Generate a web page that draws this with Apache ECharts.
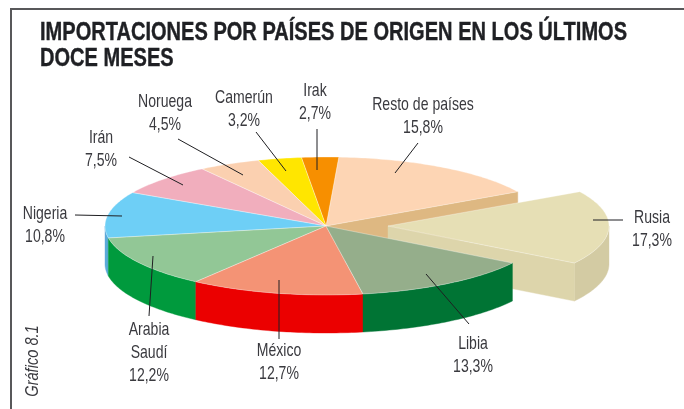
<!DOCTYPE html>
<html>
<head>
<meta charset="utf-8">
<title>Importaciones por países de origen</title>
<script src="https://cdn.jsdelivr.net/npm/echarts@6/dist/echarts.min.js"></script>
<style>
  html, body { margin: 0; padding: 0; background: #fff; }
  #chart { width: 684px; height: 409px; }
</style>
</head>
<body>
<div id="chart"></div>
<script>
const titulo = 'IMPORTACIONES POR PAÍSES DE ORIGEN EN LOS ÚLTIMOS\nDOCE MESES'
const paises = ['Rusia', 'Libia', 'México', 'Arabia\nSaudí', 'Nigeria', 'Irán', 'Noruega', 'Camerún', 'Irak', 'Resto de países']
const valores = [17.3, 13.3, 12.7, 12.2, 10.8, 7.5, 4.5, 3.2, 2.7, 15.8]
const coloresTapa = ['#e6dfb5', '#95ae8b', '#f49375', '#92c796', '#6ecff6', '#f1aebd', '#fbd0b0', '#ffe600', '#f78f00', '#fdd5b4']
const coloresLado = ['#d3cba3', '#007434', '#eb0000', '#009a3d', '#5baad9', '#d9a0ae', '#e0b892', '#d8c400', '#d07800', '#deb882']

// pie geometry, the ellipse is the tilted circle
const cx = 326
const cy = 226
const rx = 221
const ry = 69
const fondo = 38
const rusiaDx = 62
const inicio = 29.8

// paint order: back to front
const orden = [9, 0, 8, 7, 6, 5, 4, 3, 2, 1]

// label centre and leader line for each country, same order as paises
const posEtiqueta = [[652, 229.5], [473, 355.5], [279, 362.5], [149, 352.5], [45, 225.5], [101, 149.5], [165, 113.5], [244, 109.5], [315, 102.5], [423, 116.5]]
const lineas = [
  [593, 220, 623, 220], [426, 274, 469, 324], [279, 280, 279, 339], [153, 256, 149, 316], [75, 215, 122, 216],
  [129, 157, 183, 185], [178, 139, 243, 175], [256, 132, 286, 171], [317, 129, 317, 170], [418, 143, 395, 173]
]

const fuente = '"Liberation Sans", sans-serif'

const total = valores.reduce((a, b) => a + b, 0)
const angulos = []
let acum = inicio
valores.forEach((v) => {
  const fin = acum - v / total * 360
  angulos.push([acum, fin])
  acum = fin
})

function punto(x0, grados) {
  const r = grados * Math.PI / 180
  return [x0 + rx * Math.cos(r), cy - ry * Math.sin(r)]
}

function arco(x0, a, b) {
  const pts = []
  const n = Math.max(2, Math.ceil(Math.abs(a - b)))
  for (let i = 0; i <= n; i++) {
    pts.push(punto(x0, a + (b - a) * i / n))
  }
  return pts
}

function poligono(pts, color, stroke) {
  return {
    type: 'polygon',
    shape: { points: pts },
    style: { fill: color, stroke: stroke || color, lineWidth: stroke ? 0.6 : 0.4 }
  }
}

function renderGajo(params, api) {
  const i = api.value(0)
  const a = angulos[i][0]
  const b = angulos[i][1]
  const x0 = i === 0 ? cx + rusiaDx : cx
  const hijos = []

  // outer wall, only the part that faces the viewer (lower half of the ellipse)
  const desde = Math.min(a, 0)
  const hasta = Math.max(b, -180)
  if (desde > hasta) {
    const borde = arco(x0, desde, hasta)
    const abajo = borde.map((p) => [p[0], p[1] + fondo]).reverse()
    hijos.push(poligono(borde.concat(abajo), coloresLado[i]))
  }

  // cut faces showing because of the pulled-out slice
  if (i === 0 || i === 9) {
    const p = punto(x0, b)
    const color = i === 0 ? '#ddd5ab' : coloresLado[i]
    hijos.push(poligono([[x0, cy], p, [p[0], p[1] + fondo], [x0, cy + fondo]], color))
  }

  hijos.push(poligono([[x0, cy]].concat(arco(x0, a, b)), coloresTapa[i], 'rgba(255,255,255,0.55)'))
  return { type: 'group', children: hijos }
}

const graficos = [
  { type: 'line', shape: { x1: 11, y1: 9, x2: 684, y2: 9 }, style: { stroke: '#58585a', lineWidth: 2 } },
  { type: 'line', shape: { x1: 11, y1: 8, x2: 11, y2: 409 }, style: { stroke: '#58585a', lineWidth: 2 } },
  {
    type: 'text',
    x: 40,
    y: 46.5,
    scaleX: 0.802,
    style: {
      text: titulo,
      font: 'bold 25px ' + fuente,
      lineHeight: 26,
      fill: '#1f2024',
      stroke: '#1f2024',
      lineWidth: 0.4,
      align: 'left',
      verticalAlign: 'middle'
    }
  },
  {
    type: 'text',
    x: 33,
    y: 361,
    rotation: Math.PI / 2,
    scaleX: 0.79,
    style: {
      text: 'Gráfico 8.1',
      font: 'italic 18.5px ' + fuente,
      fill: '#3a3a3f',
      align: 'center',
      verticalAlign: 'middle'
    }
  }
]

lineas.forEach((l) => {
  graficos.push({
    type: 'line',
    z: 10,
    shape: { x1: l[0], y1: l[1], x2: l[2], y2: l[3] },
    style: { stroke: '#1f1f22', lineWidth: 1 }
  })
})

paises.forEach((p, i) => {
  graficos.push({
    type: 'text',
    z: 10,
    x: posEtiqueta[i][0],
    y: posEtiqueta[i][1],
    scaleX: 0.76,
    style: {
      text: p + '\n' + valores[i].toFixed(1).replace('.', ',') + '%',
      font: '18.5px ' + fuente,
      lineHeight: 23,
      fill: '#3a3a3f',
      align: 'center',
      verticalAlign: 'middle'
    }
  })
})

const myChart = echarts.init(document.getElementById('chart'), null, { renderer: 'canvas' })
myChart.setOption({
  animation: false,
  backgroundColor: '#fff',
  graphic: graficos,
  series: [
    {
      type: 'custom',
      coordinateSystem: 'none',
      silent: true,
      data: orden.map((i) => [i]),
      renderItem: renderGajo
    }
  ]
})
</script>
</body>
</html>
